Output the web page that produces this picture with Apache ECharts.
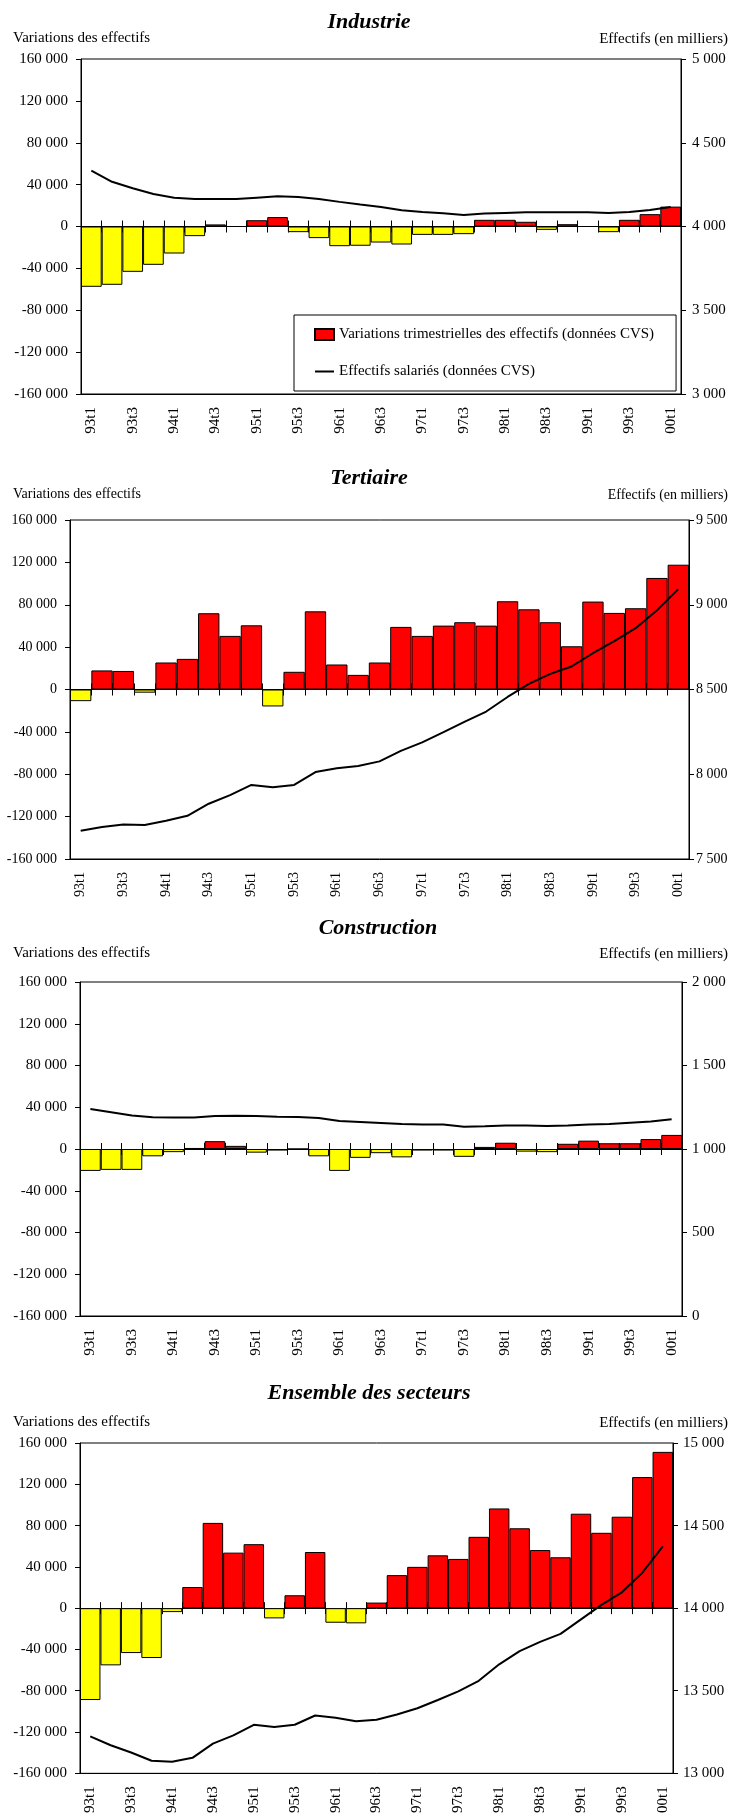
<!DOCTYPE html>
<html>
<head>
<meta charset="utf-8">
<script src="https://cdn.jsdelivr.net/npm/echarts@6/dist/echarts.min.js"></script>
<style>
  html, body { margin: 0; padding: 0; background: #fff; }
  #chart { width: 732px; height: 1816px; }
</style>
</head>
<body>
<div id="chart"></div>
<script>
// Quarters 1993 Q1 to 2000 Q1
const quarters = ['93t1','93t2','93t3','93t4','94t1','94t2','94t3','94t4','95t1','95t2','95t3','95t4',
  '96t1','96t2','96t3','96t4','97t1','97t2','97t3','97t4','98t1','98t2','98t3','98t4',
  '99t1','99t2','99t3','99t4','00t1'];

// Quarterly change in employees (seasonally adjusted)
const industrieVar = [-57600,-55700,-43300,-36600,-25800,-9200,2000,0,6000,9000,-5400,-11100,
  -18800,-18400,-15300,-17200,-8000,-8000,-7300,6400,6400,4500,-3200,2200,0,-5400,6400,11800,19000];
const tertiaireVar = [-11000,18000,17500,-3000,25500,28900,72000,50600,60600,-16000,16700,73800,
  23600,13800,25500,59100,50600,60300,63500,60300,83300,75700,63500,40800,83000,72300,76700,105300,117800];
const constructionVar = [-21000,-20000,-20000,-7000,-3000,1000,7500,3000,-3500,-1500,0,-7000,
  -21000,-8500,-4000,-8000,-1500,-1500,-7500,2000,6000,-2500,-3000,5000,8000,5500,5500,9500,13500];
const ensembleVar = [-89000,-55400,-43500,-48300,-3800,20500,82600,53800,62000,-9900,12500,54400,
  -14100,-14700,5400,32000,40000,51200,47700,69100,96600,77400,56300,49300,91500,73000,88600,127000,151400];

// Salaried employment level, thousands (seasonally adjusted)
const industrieEff = [4333,4267,4228,4194,4172,4164,4164,4164,4172,4180,4176,4164,4147,4131,4117,
  4097,4087,4079,4069,4077,4081,4085,4085,4085,4085,4081,4087,4099,4117];
const tertiaireEff = [7667,7689,7703,7701,7726,7755,7826,7877,7937,7923,7937,8013,8035,8049,8076,
  8138,8188,8248,8310,8370,8456,8533,8592,8636,8714,8786,8862,8968,9092];
const constructionEff = [1240,1220,1200,1190,1188,1188,1197,1199,1197,1193,1192,1186,1168,1162,1156,
  1150,1147,1146,1133,1136,1140,1140,1137,1140,1146,1150,1157,1164,1178];
const ensembleEff = [13224,13170,13126,13076,13070,13094,13180,13230,13294,13280,13294,13350,13336,
  13316,13324,13356,13394,13444,13496,13560,13660,13740,13796,13844,13932,14020,14096,14215,14374];

// Axis ranges
const leftRange = [-160000, 160000];
const rightRanges = [[3000, 5000], [7500, 9500], [0, 2000], [13000, 15000]];
const titles = ['Industrie', 'Tertiaire', 'Construction', 'Ensemble des secteurs'];
const leftName = 'Variations des effectifs';
const rightName = 'Effectifs (en milliers)';
const barName = 'Variations trimestrielles des effectifs (données CVS)';
const lineName = 'Effectifs salariés (données CVS)';

const SERIF = "'Liberation Serif', 'Times New Roman', serif";
const RED = '#FF0000';
const YELLOW = '#FFFF00';

function fmt(v) {
  const s = Math.abs(v).toString().replace(/\B(?=(\d{3})+(?!\d))/g, ' ');
  return (v < 0 ? '-' : '') + s;
}

const layout = [
  { grid: { left: 81, right: 51, top: 59, height: 335 }, titleY: 22, nameY: 38, font: 15, rMargin: 11 },
  { grid: { left: 70, right: 43, top: 520, height: 339 }, titleY: 478, nameY: 494, font: 14, rMargin: 7 },
  { grid: { left: 80, right: 50, top: 982, height: 334 }, titleY: 928, nameY: 953, font: 15, rMargin: 10 },
  { grid: { left: 80, right: 59, top: 1443, height: 334 }, titleY: 1393, nameY: 1422, font: 15, rMargin: 10 }
];

const varSets = [industrieVar, tertiaireVar, constructionVar, ensembleVar];
const effSets = [industrieEff, tertiaireEff, constructionEff, ensembleEff];

const grid = [], xAxis = [], yAxis = [], series = [], graphic = [];

layout.forEach((p, i) => {
  grid.push(Object.assign({ show: true, borderColor: '#000', borderWidth: 1, backgroundColor: '#fff' }, p.grid));

  const xBase = xAxis.length;
  const yLeft = yAxis.length;
  // bottom axis carrying the quarter labels
  xAxis.push({
    type: 'category', gridIndex: i, data: quarters, position: 'bottom',
    axisLine: { onZero: false, lineStyle: { color: '#000', width: 1 } },
    axisTick: { show: false },
    axisLabel: { interval: 1, rotate: 90, margin: 13, color: '#000', fontFamily: SERIF, fontSize: p.font }
  });
  // zero line, ticks pointing down
  xAxis.push({
    type: 'category', gridIndex: i, data: quarters, position: 'bottom',
    axisLine: { onZero: true, onZeroAxisIndex: yLeft, lineStyle: { color: '#000', width: 1 } },
    axisTick: { show: true, interval: 0, length: 6, lineStyle: { color: '#000' } },
    axisLabel: { show: false }
  });
  // zero line, ticks pointing up
  xAxis.push({
    type: 'category', gridIndex: i, data: quarters, position: 'bottom',
    axisLine: { show: false, onZero: true, onZeroAxisIndex: yLeft },
    axisTick: { show: true, inside: true, interval: 0, length: 6, lineStyle: { color: '#000' } },
    axisLabel: { show: false }
  });

  yAxis.push({
    type: 'value', gridIndex: i, position: 'left', min: leftRange[0], max: leftRange[1], interval: 40000,
    axisLine: { show: true, lineStyle: { color: '#000' } },
    axisTick: { show: true, length: 5, lineStyle: { color: '#000' } },
    splitLine: { show: false },
    axisLabel: { formatter: fmt, margin: 13, color: '#000', fontFamily: SERIF, fontSize: p.font }
  });
  yAxis.push({
    type: 'value', gridIndex: i, position: 'right', min: rightRanges[i][0], max: rightRanges[i][1], interval: 500,
    axisLine: { show: true, lineStyle: { color: '#000' } },
    axisTick: { show: true, length: 5, lineStyle: { color: '#000' } },
    splitLine: { show: false },
    axisLabel: { formatter: fmt, margin: p.rMargin, color: '#000', fontFamily: SERIF, fontSize: p.font }
  });

  series.push({
    name: barName, type: 'bar', xAxisIndex: xBase, yAxisIndex: yLeft,
    barCategoryGap: '0%',
    itemStyle: { color: RED, borderColor: '#000', borderWidth: 1 },
    data: varSets[i].map(v => ({ value: v, itemStyle: { color: v < 0 ? YELLOW : RED } })),
    animation: false
  });
  series.push({
    name: lineName, type: 'line', xAxisIndex: xBase, yAxisIndex: yLeft + 1,
    symbol: 'none', z: 5,
    lineStyle: { color: '#000', width: 2 }, itemStyle: { color: '#000' },
    data: effSets[i], animation: false
  });

  graphic.push({
    type: 'text', x: i === 2 ? 378 : 369, y: p.titleY,
    style: { text: titles[i], align: 'center', verticalAlign: 'middle', fill: '#000',
      font: 'italic bold 22px ' + SERIF }
  });
  graphic.push({
    type: 'text', x: 13, y: p.nameY,
    style: { text: leftName, align: 'left', verticalAlign: 'middle', fill: '#000',
      font: p.font + 'px ' + SERIF }
  });
  graphic.push({
    type: 'text', x: 728, y: p.nameY + 1,
    style: { text: rightName, align: 'right', verticalAlign: 'middle', fill: '#000',
      font: p.font + 'px ' + SERIF }
  });
});

const chart = echarts.init(document.getElementById('chart'), null, { renderer: 'canvas' });
chart.setOption({
  backgroundColor: '#fff',
  animation: false,
  grid, xAxis, yAxis, series, graphic,
  legend: {
    data: [
      { name: barName, icon: 'rect' },
      { name: lineName, itemStyle: { color: 'rgba(0,0,0,0)', borderColor: 'rgba(0,0,0,0)', borderWidth: 0 },
        lineStyle: { color: '#000', width: 2 } }
    ],
    orient: 'vertical', left: 294, top: 315,
    padding: [12, 22, 12, 20], itemGap: 22,
    itemWidth: 19, itemHeight: 11,
    backgroundColor: '#fff', borderColor: '#000', borderWidth: 1,
    textStyle: { color: '#000', fontFamily: SERIF, fontSize: 15 },
    selectedMode: false
  }
});
</script>
</body>
</html>
